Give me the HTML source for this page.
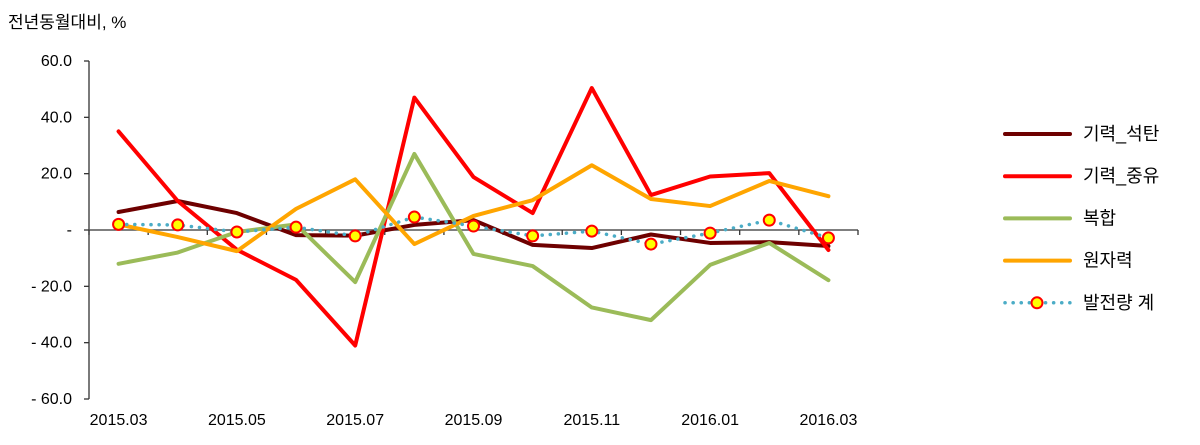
<!DOCTYPE html>
<html><head><meta charset="utf-8"><style>
body{margin:0;background:#fff;font-family:"Liberation Sans","Noto Sans CJK KR",sans-serif;}
svg text{font-family:"Liberation Sans","Noto Sans CJK KR",sans-serif;}
</style></head><body>
<svg id="c" width="1200" height="440" xmlns="http://www.w3.org/2000/svg">
<text x="8" y="28" font-size="17" fill="#000">전년동월대비, %</text>
<g id="axes"></g><g id="series"></g><g id="legend"></g>
</svg>
<script>
const categories=["2015.03","2015.04","2015.05","2015.06","2015.07","2015.08","2015.09","2015.10","2015.11","2015.12","2016.01","2016.02","2016.03"];
const coal=[6.4,10.3,6,-1.8,-2,1.8,3.5,-5.3,-6.4,-1.6,-4.6,-4.3,-5.7];
const oil=[35,10.3,-7,-17.7,-41,47,18.8,6,50.4,12.4,19,20.2,-7.1];
const combined=[-12,-8,-0.7,2,-18.5,27,-8.5,-12.8,-27.5,-32,-12.4,-4.6,-17.8];
const nuclear=[2,-2.5,-7.5,7.5,18,-5,5,10.6,23,11,8.5,17.4,12];
const total=[2,1.8,-0.7,1,-2.1,4.6,1.4,-2.1,-0.4,-5,-1.1,3.5,-2.8];
const yTicks=[60,40,20,0,-20,-40,-60];
const yTickLabels=["60.0","40.0","20.0","-","- 20.0","- 40.0","- 60.0"];
const ns="http://www.w3.org/2000/svg";
const X0=89,X1=858,Y0=61,Y1=399;
const step=(X1-X0)/categories.length;
const xs=i=>X0+step*(i+0.5);
const ys=v=>Y0+(60-v)/120*(Y1-Y0);
function mk(t,a,p){const e=document.createElementNS(ns,t);for(const k in a)e.setAttribute(k,a[k]);p.appendChild(e);return e;}
const ax=document.getElementById('axes');
let yl=mk('line',{x1:X0,y1:Y0,x2:X0,y2:Y1,stroke:'#333','stroke-width':1.3},ax);


yTicks.forEach((v,i)=>{
 mk('line',{x1:X0-5,y1:ys(v),x2:X0,y2:ys(v),stroke:'#333','stroke-width':1.3},ax);
 const t=mk('text',{x:X0-17,y:ys(v)+5,'font-size':16,'text-anchor':'end',fill:'#000'},ax);
 t.textContent=yTickLabels[i];
 
 
});
let xl=mk('line',{x1:X0,y1:ys(0),x2:X1,y2:ys(0),stroke:'#555','stroke-width':1.5},ax);


for(let i=0;i<=categories.length;i++)mk('line',{x1:X0+step*i,y1:ys(0),x2:X0+step*i,y2:ys(0)+5,stroke:'#333','stroke-width':1.3},ax);
categories.forEach((c,i)=>{if(i%2)return;
 const t=mk('text',{x:xs(i),y:425,'font-size':16,'text-anchor':'middle',fill:'#000'},ax);
 t.textContent=c;
 
 
});
const sg=document.getElementById('series');
const defs=[
 {n:'기력_석탄',d:coal,c:'#6e0000',k:'coal'},
 {n:'기력_중유',d:oil,c:'#ff0000',k:'oil'},
 {n:'복합',d:combined,c:'#9bbb59',k:'combined'},
 {n:'원자력',d:nuclear,c:'#ffa500',k:'nuclear'},
 {n:'발전량 계',d:total,c:'#4bacc6',k:'total',dot:true}];
defs.forEach(s=>{
 const pts=s.d.map((v,i)=>xs(i)+','+ys(v)).join(' ');
 const p=mk('polyline',{points:pts,fill:'none',stroke:s.c,'stroke-width':s.dot?3.5:4,'stroke-linejoin':'round','stroke-linecap':'round'},sg);
 if(s.dot)p.setAttribute('stroke-dasharray','0.1 8');
 
 
 if(s.dot)s.d.forEach((v,i)=>{
  const m=mk('circle',{cx:xs(i),cy:ys(v),r:5.5,fill:'#ffff00',stroke:'#ff0000','stroke-width':2},sg);
  
  
 });
});
const lg=document.getElementById('legend');
defs.forEach((s,i)=>{
 const y=134+i*42.2;
 const g=mk('g',{},lg);
 
 
 const l=mk('line',{x1:1005,y1:y,x2:1070,y2:y,stroke:s.c,'stroke-width':s.dot?3.5:4,'stroke-linecap':'round'},g);
 if(s.dot){l.setAttribute('stroke-dasharray','0.1 8');mk('circle',{cx:1037,cy:y,r:5.5,fill:'#ffff00',stroke:'#ff0000','stroke-width':2},g);}
 const t=mk('text',{x:1083,y:y+6,'font-size':18,fill:'#000'},g);
 t.textContent=s.n;
});
</script>
</body></html>
